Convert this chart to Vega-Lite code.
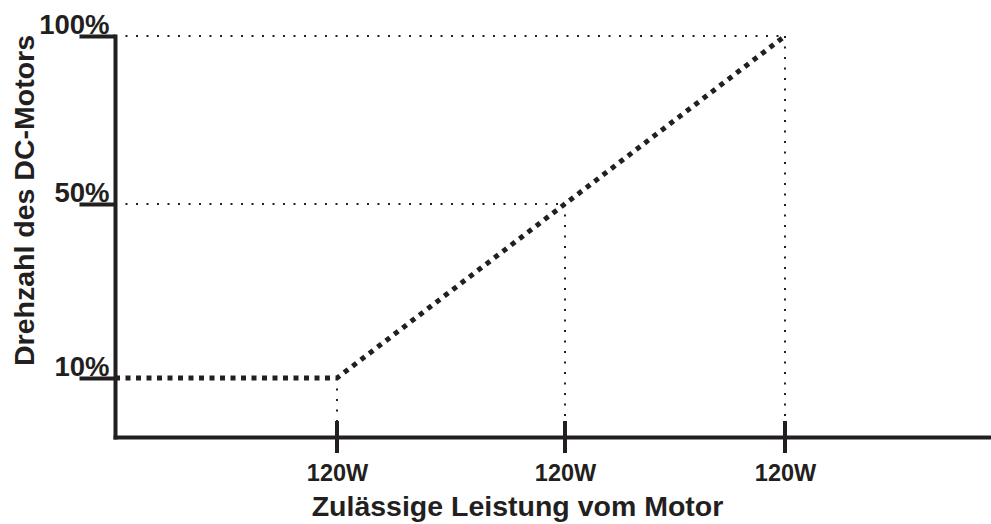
{
  "$schema": "https://vega.github.io/schema/vega-lite/v6.json",
  "width": 875,
  "height": 401,
  "autosize": {"type": "none"},
  "padding": {"left": 115, "top": 36, "right": 1, "bottom": 87},
  "background": "white",
  "config": {
    "view": {"stroke": null},
    "font": "Liberation Sans",
    "axis": {"grid": false}
  },
  "datasets": {
    "curve": [
      {"leistung": 0, "drehzahl": 10},
      {"leistung": 1, "drehzahl": 10},
      {"leistung": 3, "drehzahl": 100}
    ],
    "guides": [
      {"x1": 0, "x2": 3, "y1": 100, "y2": 100},
      {"x1": 0, "x2": 2, "y1": 50, "y2": 50},
      {"x1": 1, "x2": 1, "y1": 10, "y2": 0},
      {"x1": 2, "x2": 2, "y1": 50, "y2": 0},
      {"x1": 3, "x2": 3, "y1": 100, "y2": 0}
    ],
    "ticks": [
      {"leistung": 1, "drehzahl": 0},
      {"leistung": 2, "drehzahl": 0},
      {"leistung": 3, "drehzahl": 0}
    ]
  },
  "layer": [
    {
      "data": {"name": "guides"},
      "mark": {"type": "rule", "color": "#231f20", "strokeWidth": 2, "strokeDash": [2, 8.5], "strokeCap": "butt"},
      "encoding": {
        "x": {
          "field": "x1", "type": "quantitative",
          "scale": {"domain": [0, 1, 2, 3, 4], "range": [0, 222, 450, 670, 875], "nice": false, "zero": false},
          "axis": {
            "values": [1, 2, 3],
            "labelExpr": "'120W'",
            "title": "Zulässige Leistung vom Motor",
            "domainColor": "#231f20", "domainWidth": 4, "domainCap": "square",
            "ticks": false,
            "labelFont": "Liberation Sans", "labelFontWeight": "bold", "labelFontSize": 23.5, "labelColor": "#231f20",
            "labelPadding": 24, "labelBaseline": "top",
            "titleFont": "Liberation Sans", "titleFontWeight": "bold", "titleFontSize": 28.5, "titleColor": "#231f20",
            "titleX": 402, "titleY": 78, "titleBaseline": "alphabetic", "titleAlign": "center"
          }
        },
        "x2": {"field": "x2"},
        "y": {
          "field": "y1", "type": "quantitative",
          "scale": {"domain": [0, 10, 50, 100], "range": [401, 342, 168, 0], "nice": false, "zero": false},
          "axis": {
            "values": [10, 50, 100],
            "labelExpr": "datum.value + '%'",
            "title": "Drehzahl des DC-Motors",
            "domainColor": "#231f20", "domainWidth": 4, "domainCap": "square",
            "tickColor": "#231f20", "tickWidth": 4, "tickSize": 36,
            "labelFont": "Liberation Sans", "labelFontWeight": "bold", "labelFontSize": 27.5, "labelColor": "#231f20",
            "labelAlign": "right", "labelBaseline": "alphabetic", "labelPadding": -30, "labelOffset": -3,
            "titleFont": "Liberation Sans", "titleFontWeight": "bold", "titleFontSize": 28.5, "titleColor": "#231f20",
            "titleX": -82, "titleY": 164, "titleBaseline": "alphabetic", "titleAlign": "center", "titleAngle": -90
          }
        },
        "y2": {"field": "y2"}
      }
    },
    {
      "data": {"name": "curve"},
      "mark": {"type": "line", "color": "#231f20", "strokeWidth": 5, "strokeDash": [5, 5.5], "strokeCap": "butt"},
      "encoding": {
        "x": {"field": "leistung", "type": "quantitative"},
        "y": {"field": "drehzahl", "type": "quantitative"}
      }
    },
    {
      "data": {"name": "ticks"},
      "mark": {"type": "tick", "orient": "vertical", "color": "#231f20", "size": 32, "thickness": 4, "opacity": 1, "clip": false},
      "encoding": {
        "x": {"field": "leistung", "type": "quantitative"},
        "y": {"field": "drehzahl", "type": "quantitative"}
      }
    }
  ]
}
